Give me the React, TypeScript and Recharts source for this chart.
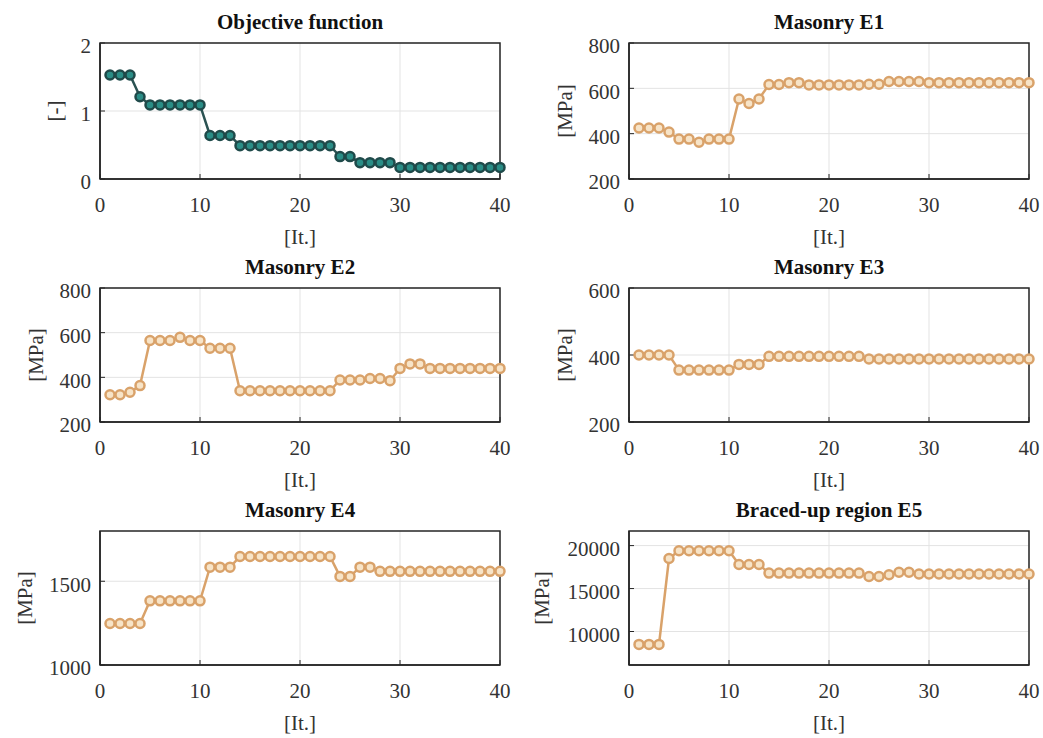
import React from 'react'
import { LineChart, Line, XAxis, YAxis, CartesianGrid, ReferenceArea } from 'recharts'

// iteration index 1..40
const iterations = Array.from({ length: 40 }, (_, i) => i + 1)

const objective = [
  1.53, 1.53, 1.53, 1.21, 1.09, 1.09, 1.09, 1.09, 1.09, 1.09,
  0.64, 0.64, 0.64, 0.49, 0.49, 0.49, 0.49, 0.49, 0.49, 0.49,
  0.49, 0.49, 0.49, 0.33, 0.33, 0.24, 0.24, 0.24, 0.24, 0.17,
  0.17, 0.17, 0.17, 0.17, 0.17, 0.17, 0.17, 0.17, 0.17, 0.17,
]
const e1 = [
  425, 425, 425, 407, 376, 376, 362, 376, 376, 376,
  553, 533, 553, 617, 617, 625, 625, 615, 615, 615,
  615, 615, 615, 618, 618, 630, 630, 630, 630, 625,
  625, 625, 625, 625, 625, 625, 625, 625, 625, 625,
]
const e2 = [
  322, 322, 333, 363, 565, 565, 565, 579, 565, 565,
  530, 530, 530, 340, 340, 340, 340, 340, 340, 340,
  340, 340, 340, 388, 388, 388, 395, 395, 385, 440,
  460, 460, 440, 440, 440, 440, 440, 440, 440, 440,
]
const e3 = [
  400, 400, 400, 400, 355, 355, 355, 355, 355, 355,
  372, 372, 372, 396, 396, 396, 396, 396, 396, 396,
  396, 396, 396, 388, 388, 388, 388, 388, 388, 388,
  388, 388, 388, 388, 388, 388, 388, 388, 388, 388,
]
const e4 = [
  1248, 1248, 1248, 1248, 1383, 1383, 1383, 1383, 1383, 1383,
  1584, 1584, 1584, 1648, 1648, 1648, 1648, 1648, 1648, 1648,
  1648, 1648, 1648, 1529, 1529, 1584, 1584, 1559, 1559, 1559,
  1559, 1559, 1559, 1559, 1559, 1559, 1559, 1559, 1559, 1559,
]
const e5 = [
  8500, 8500, 8500, 18500, 19400, 19400, 19400, 19400, 19400, 19400,
  17800, 17800, 17800, 16800, 16800, 16800, 16800, 16800, 16800, 16800,
  16800, 16800, 16800, 16400, 16400, 16600, 16900, 16900, 16700, 16700,
  16700, 16700, 16700, 16700, 16700, 16700, 16700, 16700, 16700, 16700,
]

const xTicks = [0, 10, 20, 30, 40]

const FONT = 'Liberation Serif, DejaVu Serif, serif'
const TEAL = { line: '#2b5252', edge: '#1f4a4a', fill: '#2a8d86' }
const TAN = { line: '#d9a26a', edge: '#d9a26a', fill: '#f7e4c8' }

const panels = [
  { title: 'Objective function', values: objective, domain: [0, 2], ticks: [0, 1, 2], ylab: '[-]', ylabX: 55, px: 100, py: 43, ph: 136, c: TEAL },
  { title: 'Masonry E1', values: e1, domain: [200, 800], ticks: [200, 400, 600, 800], ylab: '[MPa]', ylabX: 565, px: 629, py: 43, ph: 136, c: TAN },
  { title: 'Masonry E2', values: e2, domain: [200, 800], ticks: [200, 400, 600, 800], ylab: '[MPa]', ylabX: 36, px: 100, py: 288, ph: 134, c: TAN },
  { title: 'Masonry E3', values: e3, domain: [200, 600], ticks: [200, 400, 600], ylab: '[MPa]', ylabX: 565, px: 629, py: 288, ph: 134, c: TAN },
  { title: 'Masonry E4', values: e4, domain: [1000, 1800], ticks: [1000, 1500], ylab: '[MPa]', ylabX: 25, px: 100, py: 531, ph: 134, c: TAN },
  { title: 'Braced-up region E5', values: e5, domain: [6100, 21700], ticks: [10000, 15000, 20000], ylab: '[MPa]', ylabX: 542, px: 629, py: 531, ph: 134, c: TAN },
]

const LEFT = 100
const TOP = 43
const BOTTOM = 75

function Panel({ p }: { p: typeof panels[number] }) {
  const data = iterations.map((it, i) => ({ it, v: p.values[i] }))
  const chartLeft = p.px - LEFT
  const width = LEFT + 400 + 14
  const height = TOP + p.ph + BOTTOM
  const labelDx = p.ylabX - chartLeft
  return (
    <div style={{ position: 'absolute', left: chartLeft, top: p.py - TOP, width, height }}>
      <div style={{
        position: 'absolute', left: LEFT, width: 400, top: TOP - 33, textAlign: 'center',
        fontFamily: FONT, fontWeight: 'bold', fontSize: 21, color: '#111', lineHeight: '24px',
      }}>
        {p.title}
      </div>
      <LineChart width={width} height={height} data={data} margin={{ top: TOP, right: 14, left: 0, bottom: 0 }}>
        <CartesianGrid stroke="#e3e3e3" strokeWidth={1} horizontalValues={p.ticks} verticalValues={xTicks} />
        <XAxis
          dataKey="it" type="number" domain={[0, 40]} ticks={xTicks} height={BOTTOM}
          axisLine={{ stroke: '#262626', strokeWidth: 1.5 }} tickLine={{ stroke: '#262626' }}
          tickSize={-5} tickMargin={23}
          tick={{ fontFamily: FONT, fontSize: 21, fill: '#333' }}
          label={{
            content: ({ viewBox }: any) => (
              <text x={viewBox.x + viewBox.width / 2} y={viewBox.y + 58} dy="0.35em" textAnchor="middle"
                fontFamily={FONT} fontSize={21} fill="#333">[It.]</text>
            ),
          }}
        />
        <YAxis
          type="number" domain={p.domain} ticks={p.ticks} width={LEFT} allowDataOverflow
          axisLine={{ stroke: '#262626', strokeWidth: 1.5 }} tickLine={{ stroke: '#262626' }}
          tickSize={-5} tickMargin={14}
          tick={{ fontFamily: FONT, fontSize: 21, fill: '#333', dy: 3 }}
          label={{
            content: ({ viewBox }: any) => {
              const cx = labelDx
              const cy = viewBox.y + viewBox.height / 2
              return (
                <text x={cx} y={cy} dy="0.35em" textAnchor="middle" transform={`rotate(-90, ${cx}, ${cy})`}
                  fontFamily={FONT} fontSize={21} fill="#333">{p.ylab}</text>
              )
            },
          }}
        />
        <ReferenceArea x1={0} x2={40} y1={p.domain[0]} y2={p.domain[1]} fill="none" stroke="#262626" strokeWidth={1.5} />
        <Line
          dataKey="v" type="linear" stroke={p.c.line} strokeWidth={2.5} isAnimationActive={false}
          dot={{ r: 4.5, fill: p.c.fill, stroke: p.c.edge, strokeWidth: 2.5 }} activeDot={false}
        />
      </LineChart>
    </div>
  )
}

export default function App() {
  return (
    <div style={{ position: 'absolute', left: 0, top: 0, width: 1043, height: 738, background: '#fff' }}>
      {panels.map((p) => (
        <Panel key={p.title} p={p} />
      ))}
    </div>
  )
}
